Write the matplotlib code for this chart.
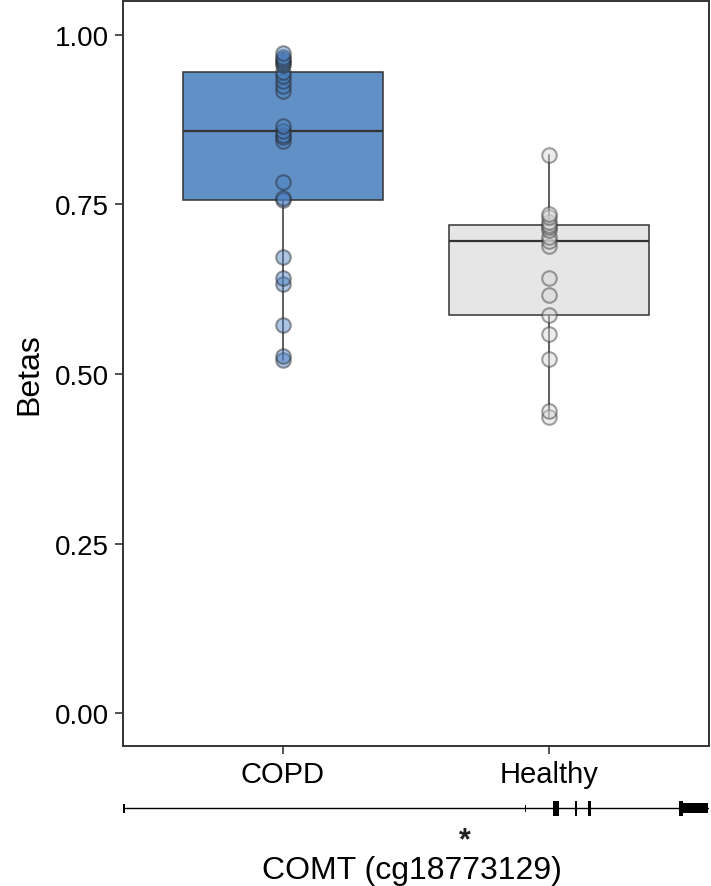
import matplotlib
matplotlib.use("Agg")
import matplotlib.pyplot as plt

plt.rcParams['font.family'] = ['Liberation Sans', 'DejaVu Sans']

# beta values
groups = ['COPD', 'Healthy']
copd = [0.521, 0.527, 0.572, 0.633, 0.642, 0.673, 0.757, 0.760, 0.783, 0.844,
        0.849, 0.852, 0.858, 0.866, 0.918, 0.925, 0.932, 0.940, 0.945, 0.955,
        0.958, 0.962, 0.965, 0.968, 0.974]
healthy = [0.436, 0.446, 0.522, 0.559, 0.587, 0.617, 0.642, 0.689, 0.696, 0.702,
           0.712, 0.717, 0.720, 0.724, 0.731, 0.736, 0.823]
yticks = [0.00, 0.25, 0.50, 0.75, 1.00]

# gene model under the plot (fraction of the panel width)
exon_start = [0.734, 0.771, 0.794, 0.948]
exon_end = [0.744, 0.775, 0.798, 0.955]
utr_start = [0.955]
utr_end = [0.998]
mark_pos = [0.002, 0.687]
cpg_pos = 0.584

W, H = 711, 887
fig = plt.figure(figsize=(W / 100, H / 100), dpi=100)
ax = fig.add_axes([123 / W, 1 - 746.7 / H, (709 - 123) / W, (746.7 - 2) / H])

fills = ['#6190c7', '#e6e6e6']
bp = ax.boxplot([copd, healthy], positions=[1, 2], widths=0.75, patch_artist=True,
                showcaps=False, showfliers=False, whis=1.5,
                medianprops=dict(color='#333333', lw=1.6),
                boxprops=dict(edgecolor='#333333', lw=1.1),
                whiskerprops=dict(color='#333333', lw=1.1))
for patch, c in zip(bp['boxes'], fills):
    patch.set_facecolor(c)

ax.scatter([1] * len(copd), copd, s=110, facecolor='#4a7fc2', edgecolor='#222222',
           alpha=0.45, lw=1.5, zorder=3)
ax.scatter([2] * len(healthy), healthy, s=110, facecolor='#d6d6d6', edgecolor='#333333',
           alpha=0.45, lw=1.5, zorder=3)

ax.set_xlim(0.4, 2.6)
ax.set_ylim(-0.048, 1.050)
ax.set_xticks([1, 2])
ax.set_xticklabels(groups, fontsize=21)
ax.set_yticks(yticks)
ax.set_yticklabels(['%.2f' % v for v in yticks], fontsize=20)
ax.tick_params(length=6, width=1.2, color='#333333', pad=4)
for s in ax.spines.values():
    s.set_color('#333333')
    s.set_linewidth(1.4)
ax.set_ylabel('Betas', fontsize=23, labelpad=8)

# gene track
gx = fig.add_axes([123 / W, 1 - 819.3 / H, (709 - 123) / W, 20 / H])
gx.set_xlim(0, 1)
gx.set_ylim(-10, 10)
gx.axis('off')
gx.plot([mark_pos[0], utr_end[0]], [0, 0], color='black', lw=1.0)
gx.bar(mark_pos[0], 9, width=0.004, bottom=-4.5, color='black', align='center')
gx.bar(mark_pos[1], 7, width=0.002, bottom=-3.5, color='black', align='center')
for a, b in zip(exon_start, exon_end):
    gx.bar(a, 15, width=b - a, bottom=-7.5, color='black', align='edge')
for a, b in zip(utr_start, utr_end):
    gx.bar(a, 10, width=b - a, bottom=-5, color='black', align='edge')

fig.text((123 + cpg_pos * 586) / W, 1 - 849 / H, '*', fontsize=22, fontweight='bold',
         ha='center', va='baseline', color='#222222')
fig.text(411.5 / W, 1 - 871 / H, 'COMT (cg18773129)', fontsize=23, ha='center', va='center')

fig.savefig('out.png', dpi=100)
